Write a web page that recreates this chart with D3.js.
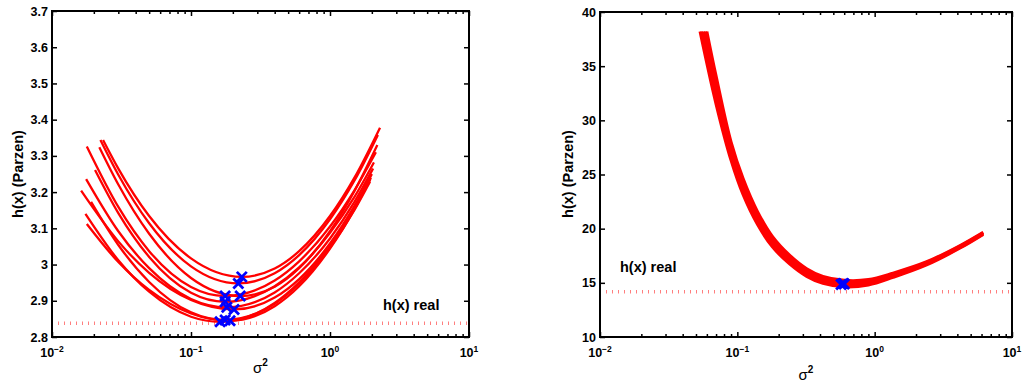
<!DOCTYPE html>
<html><head><meta charset="utf-8">
<script src="https://cdn.jsdelivr.net/npm/d3@7"></script>
<style>body{margin:0;background:#fff} text{font-family:"Liberation Sans",Arial,Helvetica,sans-serif}</style>
</head><body><svg id="c" width="1025" height="383"></svg>
<script>
// ---------------- data ----------------
const xMajorTicks = [0.01, 0.1, 1, 10];
const xTickExponents = ["\u22122", "\u22121", "0", "1"];
const leftYTicks = [2.8, 2.9, 3.0, 3.1, 3.2, 3.3, 3.4, 3.5, 3.6, 3.7];
const leftYTickLabels = ["2.8", "2.9", "3", "3.1", "3.2", "3.3", "3.4", "3.5", "3.6", "3.7"];
const rightYTicks = [10, 15, 20, 25, 30, 35, 40];
const rightYTickLabels = ["10", "15", "20", "25", "30", "35", "40"];

const leftReal = 2.838;
const rightReal = 14.18;

// left panel: 10 curves h(sigma^2)
const leftGridSigma = [0.03, 0.05, 0.1, 0.4, 0.6, 1.0, 1.5];
const leftStartSigma = [0.0233, 0.0223, 0.0219, 0.0178, 0.0204, 0.0176, 0.0162, 0.0191, 0.0178, 0.0174];
const leftStartH     = [3.344, 3.344, 3.324, 3.326, 3.261, 3.236, 3.204, 3.173, 3.112, 3.140];
const leftMinSigma   = [0.232, 0.219, 0.226, 0.176, 0.176, 0.181, 0.204, 0.176, 0.191, 0.162];
const leftMinH       = [2.966, 2.948, 2.913, 2.913, 2.897, 2.882, 2.876, 2.847, 2.845, 2.842];
const leftEndSigma   = [2.29, 2.21, 2.19, 2.14, 2.07, 2.04, 2.00, 1.94, 1.97, 1.95];
const leftEndH       = [3.378, 3.358, 3.330, 3.310, 3.282, 3.265, 3.250, 3.229, 3.240, 3.235];
const leftCurve1  = [3.265, 3.134, 3.017, 2.989, 3.037, 3.134, 3.240];
const leftCurve2  = [3.248, 3.114, 2.995, 2.976, 3.026, 3.125, 3.232];
const leftCurve3  = [3.221, 3.085, 2.963, 2.939, 2.990, 3.092, 3.203];
const leftCurve4  = [3.159, 3.037, 2.938, 2.956, 3.009, 3.105, 3.205];
const leftCurve5  = [3.142, 3.021, 2.922, 2.940, 2.992, 3.088, 3.187];
const leftCurve6  = [3.092, 2.990, 2.905, 2.923, 2.976, 3.072, 3.173];
const leftCurve7  = [3.064, 2.977, 2.902, 2.909, 2.960, 3.058, 3.162];
const leftCurve8  = [3.054, 2.952, 2.868, 2.892, 2.947, 3.047, 3.151];
const leftCurve9  = [3.007, 2.930, 2.865, 2.885, 2.940, 3.044, 3.153];
const leftCurve10 = [3.012, 2.925, 2.856, 2.894, 2.951, 3.052, 3.156];
const leftCurves = [leftCurve1, leftCurve2, leftCurve3, leftCurve4, leftCurve5,
                    leftCurve6, leftCurve7, leftCurve8, leftCurve9, leftCurve10];

// right panel: bundle of 5 curves
const rightGridSigma = [0.07, 0.09, 0.11, 0.14, 0.18, 0.24, 0.32, 0.42, 0.6, 0.9, 1.36, 2.39, 4.19, 6.17];
const rightStartSigma = [0.0535, 0.0550, 0.0568, 0.0585, 0.0600];
const rightStartH = [38.2, 38.2, 38.2, 38.2, 38.2];
const rightCurve1 = [31.5, 26.30, 23.15, 20.40, 18.32, 16.75, 15.60, 14.95, 14.63, 14.80, 15.50, 16.65, 18.21, 19.47];
const rightCurve2 = [32.15, 26.73, 23.53, 20.70, 18.56, 16.95, 15.78, 15.11, 14.78, 14.93, 15.60, 16.73, 18.27, 19.52];
const rightCurve3 = [32.8, 27.15, 23.90, 21.00, 18.80, 17.15, 15.95, 15.27, 14.93, 15.05, 15.70, 16.80, 18.33, 19.57];
const rightCurve4 = [33.45, 27.58, 24.28, 21.30, 19.04, 17.35, 16.13, 15.43, 15.08, 15.18, 15.80, 16.88, 18.39, 19.62];
const rightCurve5 = [34.1, 28.00, 24.65, 21.60, 19.28, 17.55, 16.30, 15.59, 15.23, 15.30, 15.90, 16.95, 18.45, 19.67];
const rightCurves = [rightCurve1, rightCurve2, rightCurve3, rightCurve4, rightCurve5];
const rightMinSigma = [0.57, 0.59, 0.60];
const rightMinH = [14.85, 14.95, 14.9];

// ---------------- build ----------------
const svg = d3.select("#c");

function buildLeftSeries() {
  return leftCurves.map((vals, i) => {
    const pts = [[leftStartSigma[i], leftStartH[i]]];
    leftGridSigma.forEach((s, j) => pts.push([s, vals[j]]));
    pts.push([leftMinSigma[i], leftMinH[i]]);
    pts.push([leftEndSigma[i], leftEndH[i]]);
    pts.sort((a, b) => a[0] - b[0]);
    return pts;
  });
}
function buildRightSeries() {
  return rightCurves.map((vals, i) => {
    const pts = [[rightStartSigma[i], rightStartH[i]]];
    rightGridSigma.forEach((s, j) => pts.push([s, vals[j]]));
    return pts;
  });
}

function panel(cfg) {
  const g = svg.append("g");
  const x = d3.scaleLog().domain([0.01, 10]).range([cfg.x0, cfg.x1]);
  const y = d3.scaleLinear().domain([cfg.yTicks[0], cfg.yTicks[cfg.yTicks.length - 1]]).range([cfg.y1, cfg.y0]);

  // real entropy dotted line
  g.append("line")
    .attr("x1", x(0.01)).attr("x2", x(10))
    .attr("y1", y(cfg.real)).attr("y2", y(cfg.real))
    .attr("stroke", "#ff0000").attr("stroke-width", 3.5)
    .attr("stroke-dasharray", "1 5").attr("opacity", 0.5);

  const line = d3.line().x(d => x(d[0])).y(d => y(d[1])).curve(cfg.curveType);
  g.selectAll("path.curve").data(cfg.series).join("path")
    .attr("class", "curve").attr("d", line)
    .attr("fill", "none").attr("stroke", "#ff0000")
    .attr("stroke-width", cfg.curveWidth).attr("stroke-linejoin", "round");

  // minimum markers
  const r = 5;
  g.selectAll("path.mk").data(cfg.markers).join("path")
    .attr("class", "mk")
    .attr("transform", d => `translate(${x(d[0])},${y(d[1])})`)
    .attr("d", `M${-r},${-r}L${r},${r}M${-r},${r}L${r},${-r}`)
    .attr("stroke", "#0000ff").attr("stroke-width", 2.8).attr("fill", "none");

  // axes: ticks inward on all four sides
  const minor = x.ticks().filter(v => xMajorTicks.indexOf(v) < 0 && v > 0.01 && v < 10);
  const axes = [
    [d3.axisBottom(x).tickValues(xMajorTicks).tickSize(-5).tickFormat(""), `translate(0,${cfg.y1})`],
    [d3.axisBottom(x).tickValues(minor).tickSize(-3).tickFormat(""), `translate(0,${cfg.y1})`],
    [d3.axisTop(x).tickValues(xMajorTicks).tickSize(-5).tickFormat(""), `translate(0,${cfg.y0})`],
    [d3.axisTop(x).tickValues(minor).tickSize(-3).tickFormat(""), `translate(0,${cfg.y0})`],
    [d3.axisRight(y).tickValues(cfg.yTicks).tickSize(-5).tickFormat(""), `translate(${cfg.x1},0)`],
    [d3.axisLeft(y).tickValues(cfg.yTicks).tickSize(-5).tickPadding(4)
        .tickFormat((d, i) => cfg.yLabels[i]), `translate(${cfg.x0},0)`]
  ];
  axes.forEach(([ax, tr]) => {
    const a = g.append("g").attr("transform", tr).call(ax);
    a.select(".domain").remove();
    a.selectAll("line").attr("stroke", "#000").attr("stroke-width", 1.5);
    a.selectAll("text").attr("fill", "#000").attr("font-size", 12.5).attr("font-weight", "bold")
      .attr("font-family", '"Liberation Sans",Arial,sans-serif');
  });

  // x tick labels 10^k
  const xl = g.selectAll("text.xl").data(xMajorTicks).join("text")
    .attr("class", "xl").attr("x", d => x(d)).attr("y", cfg.y1 + 20)
    .attr("text-anchor", "middle").attr("font-size", 12.5).attr("font-weight", "bold");
  xl.append("tspan").text("10");
  xl.append("tspan").attr("dy", -5).attr("font-size", 8.5).text((d, i) => xTickExponents[i]);

  // frame
  g.append("rect").attr("x", cfg.x0).attr("y", cfg.y0)
    .attr("width", cfg.x1 - cfg.x0).attr("height", cfg.y1 - cfg.y0)
    .attr("fill", "none").attr("stroke", "#000").attr("stroke-width", 2);

  // axis titles
  const xt = g.append("text").attr("x", (cfg.x0 + cfg.x1) / 2).attr("y", cfg.xTitleY)
    .attr("text-anchor", "middle").attr("font-size", 15);
  xt.append("tspan").text("\u03c3");
  xt.append("tspan").attr("dy", -7).attr("font-size", 10).attr("font-weight", "bold").text("2");

  g.append("text")
    .attr("transform", `translate(${cfg.yTitleX},${cfg.yTitleY}) rotate(-90)`)
    .attr("text-anchor", "middle").attr("font-size", 14.5).attr("font-weight", "bold")
    .text("h(x) (Parzen)");

  g.append("text").attr("x", cfg.realTextX).attr("y", cfg.realTextY)
    .attr("font-size", 14.5).attr("font-weight", "bold").text("h(x) real");
}

panel({
  x0: 52, x1: 469, y0: 11, y1: 337,
  yTicks: leftYTicks, yLabels: leftYTickLabels, real: leftReal,
  series: buildLeftSeries(), curveWidth: 2.3, curveType: d3.curveMonotoneX,
  markers: leftMinSigma.map((s, i) => [s, leftMinH[i]]),
  xTitleY: 373, yTitleX: 23, yTitleY: 174, realTextX: 383, realTextY: 310
});
panel({
  x0: 600, x1: 1012, y0: 12, y1: 337,
  yTicks: rightYTicks, yLabels: rightYTickLabels, real: rightReal,
  series: buildRightSeries(), curveWidth: 3, curveType: d3.curveCatmullRom.alpha(0.5),
  markers: rightMinSigma.map((s, i) => [s, rightMinH[i]]),
  xTitleY: 380, yTitleX: 573, yTitleY: 174, realTextX: 620, realTextY: 272
});
</script></body></html>
